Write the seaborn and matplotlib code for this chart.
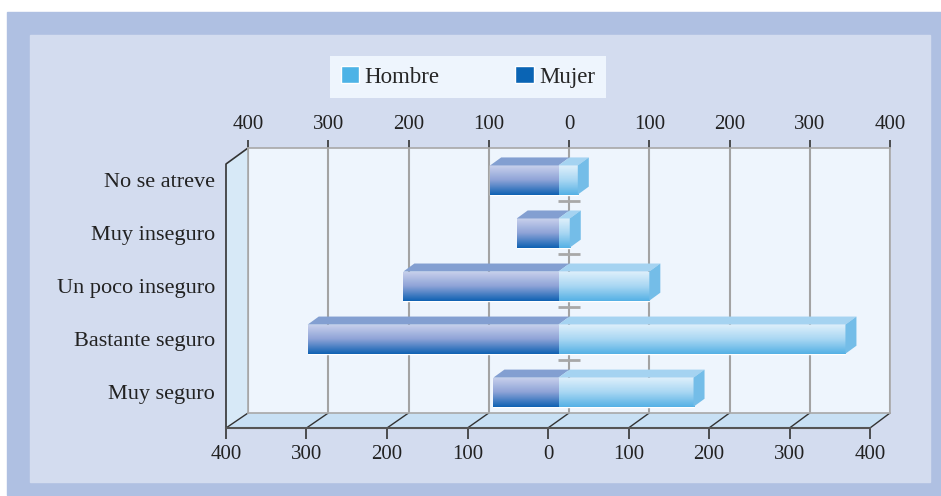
import numpy as np
import pandas as pd
import seaborn as sns
import matplotlib.pyplot as plt
from matplotlib.patches import Polygon, Rectangle, Patch
from matplotlib.colors import LinearSegmentedColormap

categorias = ['No se atreve', 'Muy inseguro', 'Un poco inseguro', 'Bastante seguro', 'Muy seguro']
hombre = [24, 14, 113, 357, 168]
mujer = [85, 52, 193, 312, 81]
ticks = [-400, -300, -200, -100, 0, 100, 200, 300, 400]
tick_labels = ['400', '300', '200', '100', '0', '100', '200', '300', '400']

df = pd.DataFrame({
    'Categoria': categorias * 2,
    'Valor': hombre + [-m for m in mujer],
    'Sexo': ['Hombre'] * len(hombre) + ['Mujer'] * len(mujer),
})

sns.set_theme(style='white')
plt.rcParams['font.family'] = ['Liberation Serif', 'DejaVu Serif']

W, H = 941, 496


def rect(x0, y0, x1, y1):
    # pixel box -> figure fraction
    return [x0 / W, 1 - y1 / H, (x1 - x0) / W, (y1 - y0) / H]


fig = plt.figure(figsize=(W / 100, H / 100), dpi=100)

# fondo y paredes del "3D"
deco = fig.add_axes([0, 0, 1, 1], zorder=0)
deco.set_xlim(0, W)
deco.set_ylim(H, 0)
deco.axis('off')
deco.add_patch(Rectangle((7, 12), W - 7, 483, color='#afc0e2'))
deco.add_patch(Rectangle((30, 35), 900, 447, color='#d3dcef'))
deco.add_patch(Polygon([(226, 164), (248, 148), (248, 413), (226, 428)], fc='#d7e9f7', ec='none'))
deco.add_patch(Polygon([(248, 413), (890, 413), (870, 428), (226, 428)], fc='#c8e0f4', ec='none'))
for t in ticks:
    xb = 248 + (t + 400) / 800 * 642
    xf = 226 + (t + 400) / 800 * 644
    deco.plot([xb, xf], [413, 428], color='#333333', lw=1)
deco.plot([248, 226, 226], [148, 164, 428], color='#333333', lw=1.2)

# pared del fondo con la rejilla y el eje superior
back = fig.add_axes(rect(248, 148, 890, 413), zorder=1)
back.set_facecolor('#eef5fd')
back.set_xlim(-400, 400)
back.set_ylim(4.5, -0.5)
back.vlines(ticks, -0.5, 4.5, color='#a3a3a3', lw=1.5)
back.hlines([0.5, 1.5, 2.5, 3.5], -13.7, 13.7, color='#a8a8a8', lw=2)
for s in back.spines.values():
    s.set_color('#a8a8a8')
    s.set_linewidth(1.2)
back.xaxis.tick_top()
back.set_xticks(ticks, tick_labels)
back.set_yticks([])
back.tick_params(axis='x', top=True, bottom=False, length=6, width=1.2, color='#333333',
                 pad=4, labelsize=15, labelcolor='#222222')

# eje inferior (plano frontal)
front = fig.add_axes(rect(226, 164, 870, 428), zorder=1.5)
front.set_facecolor('none')
front.set_xlim(-400, 400)
front.set_yticks([])
for k in ['left', 'top', 'right']:
    front.spines[k].set_visible(False)
front.spines['bottom'].set_color('#555555')
front.spines['bottom'].set_linewidth(1.5)
front.set_xticks(ticks, tick_labels)
front.tick_params(axis='x', bottom=True, length=8, width=1.2, color='#333333',
                  pad=4, labelsize=15, labelcolor='#222222')

# barras
ax = fig.add_axes(rect(237, 153.5, 880, 418.7), zorder=3)
ax.set_facecolor('none')
sns.barplot(data=df, x='Valor', y='Categoria', hue='Sexo', dodge=False, width=0.55,
            palette={'Hombre': '#5ab4e6', 'Mujer': '#1a66b6'}, orient='h', legend=False, ax=ax)
ax.set_xlim(-400, 400)
ax.set_ylim(4.5, -0.5)

cmap_h = LinearSegmentedColormap.from_list('h', ['#dff0fb', '#a9d7f3', '#55b1e5'])
cmap_m = LinearSegmentedColormap.from_list('m', ['#c9d1ec', '#8ea3d7', '#1062b3'])
grad = np.linspace(0, 1, 64).reshape(-1, 1)
dx = 11 * 800 / 643
dy = 8 / 53.04

for p in list(ax.patches):
    bb = p.get_bbox()
    x0, x1 = min(bb.x0, bb.x1), max(bb.x0, bb.x1)
    yt, yb = min(bb.y0, bb.y1), max(bb.y0, bb.y1)
    neg = x0 < -0.01
    im = ax.imshow(grad, extent=[x0, x1, yb, yt], aspect='auto',
                   cmap=cmap_m if neg else cmap_h, zorder=2)
    im.set_clip_path(p)
    top_col = '#839fd1' if neg else '#a5d3f1'
    ax.add_patch(Polygon([(x0, yt), (x1, yt), (x1 + dx, yt - dy), (x0 + dx, yt - dy)],
                         fc=top_col, ec='none', zorder=3 if neg else 3.5))
    if not neg:
        ax.add_patch(Polygon([(x1, yt), (x1 + dx, yt - dy), (x1 + dx, yb - dy), (x1, yb)],
                             fc='#74bde8', ec='none', zorder=3.5))

ax.set_xlim(-400, 400)
ax.set_ylim(4.5, -0.5)
ax.set_xticks([])
ax.set_xlabel('')
ax.set_ylabel('')
ax.tick_params(axis='y', length=0, pad=16, labelsize=16, labelcolor='#222222')
sns.despine(ax=ax, left=True, bottom=True)

handles = [Patch(fc='#4db3e6'), Patch(fc='#0a64b4')]
fig.legend(handles, ['Hombre', 'Mujer'], loc='center', bbox_to_anchor=(468 / W, 1 - 76.7 / H),
           ncol=2, frameon=True, facecolor='#eef5fd', edgecolor='none', fancybox=False,
           framealpha=1, fontsize=16.5, handlelength=0.8, handleheight=0.8, handletextpad=0.25,
           columnspacing=3.3, borderpad=0.45, borderaxespad=0)

fig.savefig('out.png', dpi=100)
